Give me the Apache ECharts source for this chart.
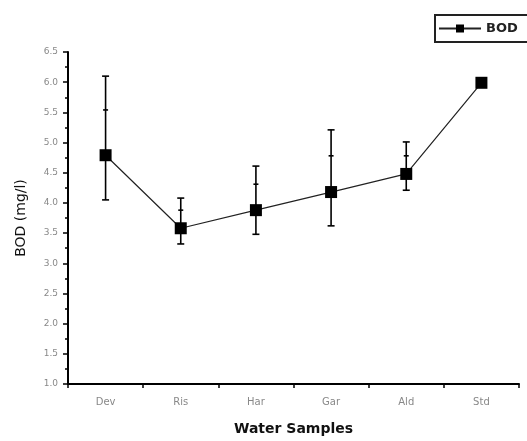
<!DOCTYPE html>
<html>
<head>
<meta charset="utf-8">
<script src="https://cdn.jsdelivr.net/npm/echarts@6/dist/echarts.min.js"></script>
<style>
  html, body { margin: 0; padding: 0; background: #fff; }
  #chart { width: 527px; height: 441px; }
</style>
</head>
<body>
<div id="chart"></div>
<script>
// BOD per water sample, with error bar extents
const samples = ['Dev', 'Ris', 'Har', 'Gar', 'Ald', 'Std'];
const bod = [4.79, 3.58, 3.88, 4.18, 4.48, 5.99];
const errLow = [4.05, 3.32, 3.48, 3.62, 4.21, null];
const errMid = [5.54, 3.88, 4.31, 4.78, 4.78, null];
const errHigh = [6.10, 4.08, 4.61, 5.21, 5.01, null];

const errData = samples.map((s, i) => [i, errLow[i], errMid[i], errHigh[i]])
  .filter(d => d[1] != null);

const labelFont = 'DejaVu Sans';
const chart = echarts.init(document.getElementById('chart'), null, { renderer: 'canvas' });

chart.setOption({
  animation: false,
  backgroundColor: '#fff',
  grid: { left: 68, right: 8, top: 52, bottom: 55 },
  legend: {
    data: ['BOD'],
    left: 435,
    top: 15,
    padding: [7, 16, 7, 3],
    itemWidth: 42,
    itemHeight: 10,
    itemGap: 8,
    borderColor: '#222',
    borderWidth: 2,
    textStyle: { fontFamily: labelFont, fontWeight: 'bold', fontSize: 13, color: '#222' }
  },
  xAxis: [
    {
      type: 'category',
      data: samples,
      boundaryGap: true,
      name: 'Water Samples',
      nameLocation: 'middle',
      nameGap: 38,
      nameTextStyle: { fontFamily: labelFont, fontSize: 14, fontWeight: 'bold', color: '#111' },
      axisLine: { lineStyle: { color: '#000', width: 2 } },
      axisTick: { alignWithLabel: true, length: 7, lineStyle: { color: '#000', width: 1.5 } },
      axisLabel: { margin: 13, fontFamily: labelFont, fontSize: 10, color: '#888' },
      splitLine: { show: false }
    },
    {
      type: 'category',
      data: samples,
      boundaryGap: true,
      position: 'bottom',
      axisLine: { show: false },
      axisTick: { show: true, length: 4, lineStyle: { color: '#000', width: 1.5 } },
      axisLabel: { show: false },
      splitLine: { show: false }
    }
  ],
  yAxis: {
    type: 'value',
    min: 1,
    max: 6.5,
    interval: 0.5,
    name: 'BOD (mg/l)',
    nameLocation: 'middle',
    nameGap: 40,
    nameTextStyle: { fontFamily: labelFont, fontSize: 14, color: '#111' },
    axisLine: { show: true, lineStyle: { color: '#000', width: 2 } },
    axisTick: { show: true, length: 5, lineStyle: { color: '#000', width: 1.5 } },
    minorTick: { show: true, splitNumber: 2, length: 3, lineStyle: { color: '#000', width: 1.5 } },
    axisLabel: {
      margin: 10, fontFamily: labelFont, fontSize: 9, color: '#888',
      formatter: v => v.toFixed(1)
    },
    splitLine: { show: false }
  },
  series: [
    {
      name: 'errors',
      type: 'custom',
      data: errData,
      z: 1,
      renderItem: function (params, api) {
        const x = api.value(0);
        const lo = api.coord([x, api.value(1)]);
        const mid = api.coord([x, api.value(2)]);
        const hi = api.coord([x, api.value(3)]);
        const cap = 3.5, capMid = 2.5;
        const style = { stroke: '#000', lineWidth: 1.6 };
        return {
          type: 'group',
          children: [
            { type: 'line', shape: { x1: lo[0], y1: lo[1], x2: hi[0], y2: hi[1] }, style },
            { type: 'line', shape: { x1: lo[0] - cap, y1: lo[1], x2: lo[0] + cap, y2: lo[1] }, style },
            { type: 'line', shape: { x1: hi[0] - cap, y1: hi[1], x2: hi[0] + cap, y2: hi[1] }, style },
            { type: 'line', shape: { x1: mid[0] - capMid, y1: mid[1], x2: mid[0] + capMid, y2: mid[1] }, style }
          ]
        };
      }
    },
    {
      name: 'BOD',
      type: 'line',
      data: bod,
      z: 3,
      symbol: 'rect',
      symbolSize: 12,
      itemStyle: { color: '#000' },
      lineStyle: { color: '#222', width: 1.2 }
    }
  ]
});
</script>
</body>
</html>
